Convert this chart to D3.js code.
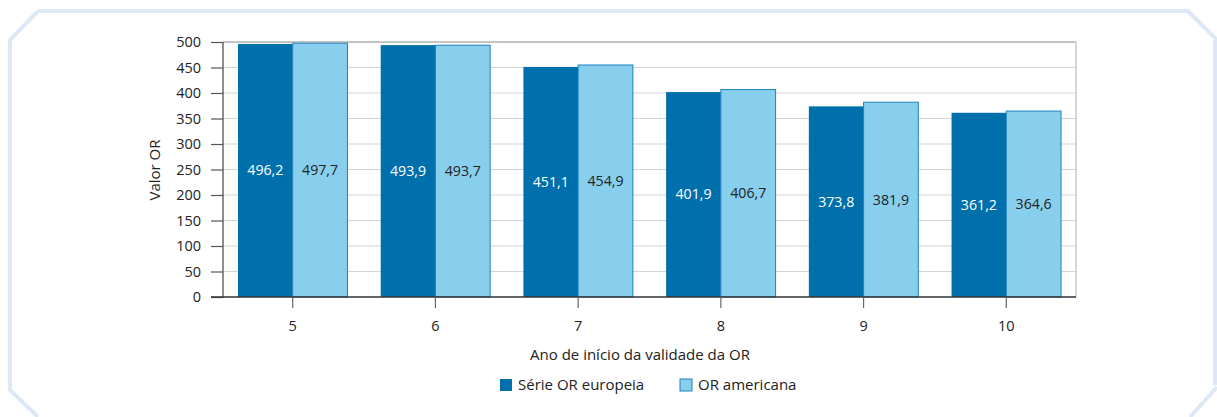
<!DOCTYPE html>
<html>
<head>
<meta charset="utf-8">
<script src="https://cdn.jsdelivr.net/npm/d3@7"></script>
<style>
  html, body { margin: 0; padding: 0; background: #fff; }
  svg { display: block; font-family: "Open Sans", "Noto Sans", sans-serif; }
</style>
</head>
<body>
<svg id="chart" width="1217" height="417"></svg>
<script>
// Categories: year of start of OR validity
const categories = ["5", "6", "7", "8", "9", "10"];
// Series values
const serieEuropeia = [496.2, 493.9, 451.1, 401.9, 373.8, 361.2];
const orAmericana   = [497.7, 493.7, 454.9, 406.7, 381.9, 364.6];
const seriesNames = ["Série OR europeia", "OR americana"];
const yTicks = [0, 50, 100, 150, 200, 250, 300, 350, 400, 450, 500];

const colors = { dark: "#0070ad", light: "#88cfee", lightStroke: "#1f80bd" };
const fmt = v => v.toFixed(1).replace(".", ",");

const svg = d3.select("#chart");

// decorative frame with cut corners
svg.append("path")
  .attr("d", "M38,11 L1188,11 L1217,40 M1215,40 L1215,385 M1217,387 L1190,417 M38,417 L10,390 L10,40 L38,11")
  .attr("fill", "none")
  .attr("stroke", "#dce8f5")
  .attr("stroke-width", 4);

const plotLeft = 223, plotRight = 1076, plotTop = 42, plotBottom = 297;

const x = d3.scaleBand().domain(categories).range([plotLeft, plotRight])
  .paddingInner(0.233).paddingOuter(0.105);
const xs = d3.scaleBand().domain([0, 1]).range([0, x.bandwidth()]);
const y = d3.scaleLinear().domain([0, 500]).range([plotBottom, plotTop]);

// horizontal grid
svg.append("g").selectAll("line").data(yTicks.filter(t => t > 0)).join("line")
  .attr("x1", plotLeft).attr("x2", plotRight)
  .attr("y1", d => y(d)).attr("y2", d => y(d))
  .attr("stroke", d => d === 500 ? "#c4c4c4" : "#d4d4d4")
  .attr("stroke-width", d => d === 500 ? 2 : 1.2);

// right border
svg.append("line").attr("x1", plotRight).attr("x2", plotRight).attr("y1", plotTop).attr("y2", plotBottom)
  .attr("stroke", "#c8c8c8").attr("stroke-width", 1.5);

// bars
const groups = svg.append("g").selectAll("g").data(categories).join("g")
  .attr("transform", d => `translate(${x(d)},0)`);

const rows = categories.map((c, i) => [serieEuropeia[i], orAmericana[i]]);

groups.each(function(c, i) {
  const g = d3.select(this);
  const vals = rows[i];
  g.selectAll("rect").data(vals).join("rect")
    .attr("x", (d, k) => xs(k))
    .attr("width", xs.bandwidth())
    .attr("y", d => y(d))
    .attr("height", d => y(0) - y(d))
    .attr("fill", (d, k) => k === 0 ? colors.dark : colors.light)
    .attr("stroke", (d, k) => k === 0 ? "none" : colors.lightStroke)
    .attr("stroke-width", 1);
  g.selectAll("text").data(vals).join("text")
    .attr("x", (d, k) => xs(k) + xs.bandwidth() / 2)
    .attr("y", d => (y(d) + y(0)) / 2)
    .attr("dy", "0.35em")
    .attr("text-anchor", "middle")
    .attr("font-size", 14.2)
    .attr("fill", (d, k) => k === 0 ? "#ffffff" : "#222")
    .text(d => fmt(d));
});

// y axis
const yAxis = d3.axisLeft(y).tickValues(yTicks).tickSize(12).tickPadding(10);
const gy = svg.append("g").attr("transform", `translate(${plotLeft},0)`).call(yAxis);
gy.select(".domain").attr("stroke", "#444").attr("stroke-width", 1.2).attr("d", `M0,${plotTop}V${plotBottom}`);
gy.selectAll(".tick line").attr("stroke", "#555").attr("stroke-width", 1.2);
gy.selectAll(".tick text").attr("font-size", 14.5).attr("fill", "#222")
  .attr("font-family", "'Open Sans', sans-serif");

// x axis
const xAxis = d3.axisBottom(x).tickSize(11).tickPadding(13);
const gx = svg.append("g").attr("transform", `translate(0,${plotBottom})`).call(xAxis);
gx.select(".domain").attr("stroke", "#333").attr("stroke-width", 1.4).attr("d", `M${plotLeft - 12},0H${plotRight}`);
gx.selectAll(".tick line").attr("stroke", "#666").attr("stroke-width", 1.2);
gx.selectAll(".tick text").attr("font-size", 14.5).attr("fill", "#222")
  .attr("font-family", "'Open Sans', sans-serif");

// axis titles
svg.append("text")
  .attr("transform", "translate(160,170) rotate(-90)")
  .attr("text-anchor", "middle")
  .attr("font-size", 15).attr("fill", "#222")
  .text("Valor OR");

svg.append("text")
  .attr("x", 640).attr("y", 360)
  .attr("text-anchor", "middle")
  .attr("font-size", 15).attr("fill", "#222")
  .text("Ano de início da validade da OR");

// legend
const legendItems = [
  { name: seriesNames[0], fill: colors.dark, stroke: "none", x: 500 },
  { name: seriesNames[1], fill: colors.light, stroke: colors.lightStroke, x: 680 }
];
const lg = svg.append("g").selectAll("g").data(legendItems).join("g")
  .attr("transform", d => `translate(${d.x},379)`);
lg.append("rect").attr("width", 12).attr("height", 12)
  .attr("fill", d => d.fill).attr("stroke", d => d.stroke);
lg.append("text").attr("x", 18).attr("y", 6).attr("dy", "0.35em")
  .attr("font-size", 15).attr("fill", "#222")
  .text(d => d.name);
</script>
</body>
</html>
